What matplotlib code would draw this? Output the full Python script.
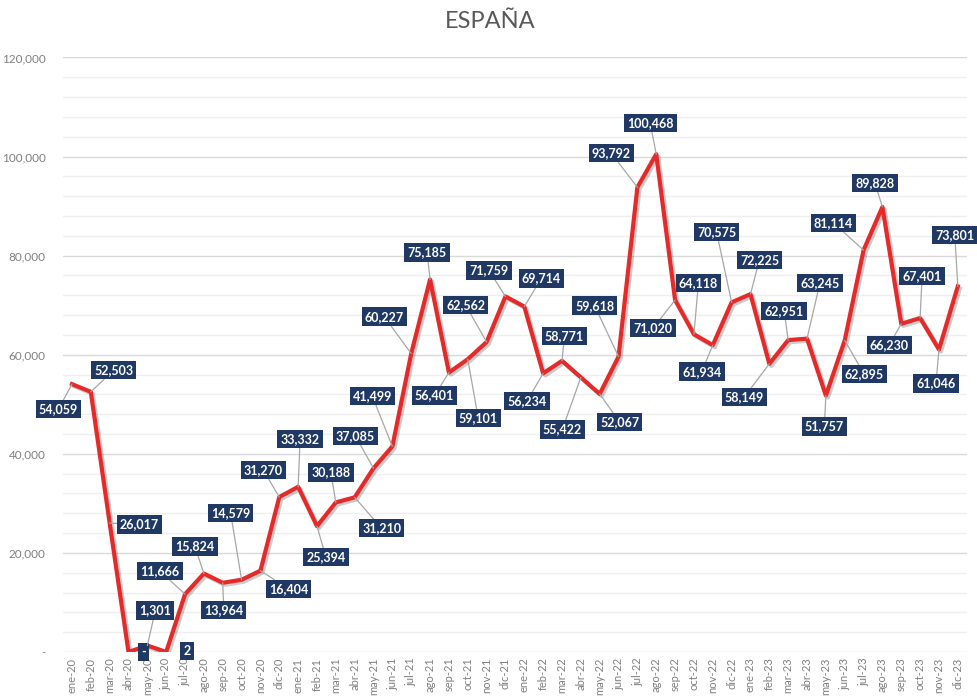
import matplotlib.pyplot as plt
import matplotlib.patheffects as pe
from matplotlib.ticker import MultipleLocator, FuncFormatter

# Meses (eje X)
meses_2020 = ["ene-20", "feb-20", "mar-20", "abr-20", "may-20", "jun-20",
              "jul-20", "ago-20", "sep-20", "oct-20", "nov-20", "dic-20"]
meses_2021 = ["ene-21", "feb-21", "mar-21", "abr-21", "may-21", "jun-21",
              "jul-21", "ago-21", "sep-21", "oct-21", "nov-21", "dic-21"]
meses_2022 = ["ene-22", "feb-22", "mar-22", "abr-22", "may-22", "jun-22",
              "jul-22", "ago-22", "sep-22", "oct-22", "nov-22", "dic-22"]
meses_2023 = ["ene-23", "feb-23", "mar-23", "abr-23", "may-23", "jun-23",
              "jul-23", "ago-23", "sep-23", "oct-23", "nov-23", "dic-23"]

# Valores mensuales
valores_2020 = [54059, 52503, 26017, 0, 1301, 2, 11666, 15824, 13964, 14579, 16404, 31270]
valores_2021 = [33332, 25394, 30188, 31210, 37085, 41499, 60227, 75185, 56401, 59101, 62562, 71759]
valores_2022 = [69714, 56234, 58771, 55422, 52067, 59618, 93792, 100468, 71020, 64118, 61934, 70575]
valores_2023 = [72225, 58149, 62951, 63245, 51757, 62895, 81114, 89828, 66230, 67401, 61046, 73801]

meses = meses_2020 + meses_2021 + meses_2022 + meses_2023
valores = valores_2020 + valores_2021 + valores_2022 + valores_2023

# Posicion de cada etiqueta respecto a su punto (pixeles, y hacia abajo)
desplazamientos = [(-13.5, 25), (23, -21.5), (30, 1.5), (15, 0), (8, -35), (21, -1),
                   (-25, -23), (-9, -27), (1, 27), (-11, -67), (28, 18), (-16, -27),
                   (2, -48), (9, 31), (-5, -30), (27, 31), (-18, -32), (-20, -50),
                   (-27, -37), (-3, -27), (-14.5, 23), (10.5, 59), (-21, -37), (-16.5, -26),
                   (17, -28), (-16, 27.5), (2.5, -25), (-18.5, 52), (20, 28), (-24, -51),
                   (-26, -34), (-6, -31), (-22, 28), (4.5, -51.5), (-11, 26.5), (-15, -70),
                   (9, -34.5), (-25, 33), (-4, -29), (13, -56), (-1.5, 31), (19.5, 34),
                   (-30, -27), (-7.5, -24), (-12, 21), (2, -42), (-3, 34), (-3, -51)]

plt.rcParams['font.family'] = ['Lato', 'DejaVu Sans']

fig = plt.figure(figsize=(9.77, 6.97), dpi=100)
ax = fig.add_axes([0.064, 0.0646, 0.926, 0.853])

x = list(range(len(valores)))
ax.plot(x, valores, color="#E52A2A", lw=3, zorder=3,
        path_effects=[pe.SimpleLineShadow(offset=(1.5, -1.5), alpha=0.2), pe.Normal()])

def formato(v):
    return "-" if v == 0 else f"{int(v):,}"

# Etiquetas de datos con lineas guia
for i, v in enumerate(valores):
    dx, dy = desplazamientos[i]
    flecha = None
    if (dx ** 2 + dy ** 2) ** 0.5 > 22:
        flecha = dict(arrowstyle="-", color="#a6a6a6", lw=0.9, shrinkA=0, shrinkB=0)
    ax.annotate(formato(v), xy=(i, v), xytext=(dx, -dy), textcoords="offset pixels",
                ha="center", va="center", color="white", fontsize=9, fontweight="bold",
                bbox=dict(boxstyle="square,pad=0.25", fc="#1F3864", ec="none"),
                arrowprops=flecha, zorder=5)

ax.set_xlim(-0.5, len(valores) - 0.5)
ax.set_ylim(0, 120000)
ax.set_xticks(x)
ax.set_xticklabels(meses, rotation=90, fontsize=8, color="#7f7f7f")
ax.yaxis.set_major_locator(MultipleLocator(20000))
ax.yaxis.set_minor_locator(MultipleLocator(4000))
ax.yaxis.set_major_formatter(FuncFormatter(lambda v, p: formato(v)))
ax.tick_params(axis="y", labelsize=8.5, labelcolor="#7f7f7f", length=0, pad=12)
ax.tick_params(axis="y", which="minor", length=0)
ax.tick_params(axis="x", length=0, pad=4)

ax.grid(which="major", axis="y", color="#d9d9d9", lw=1)
ax.grid(which="minor", axis="y", color="#efefef", lw=1)
ax.set_axisbelow(True)
for s in ax.spines.values():
    s.set_visible(False)

fig.text(0.502, 1 - 22 / 697, "ESPAÑA", ha="center", va="center", fontsize=17, color="#595959")

plt.savefig("out.png", dpi=100)
plt.close()
